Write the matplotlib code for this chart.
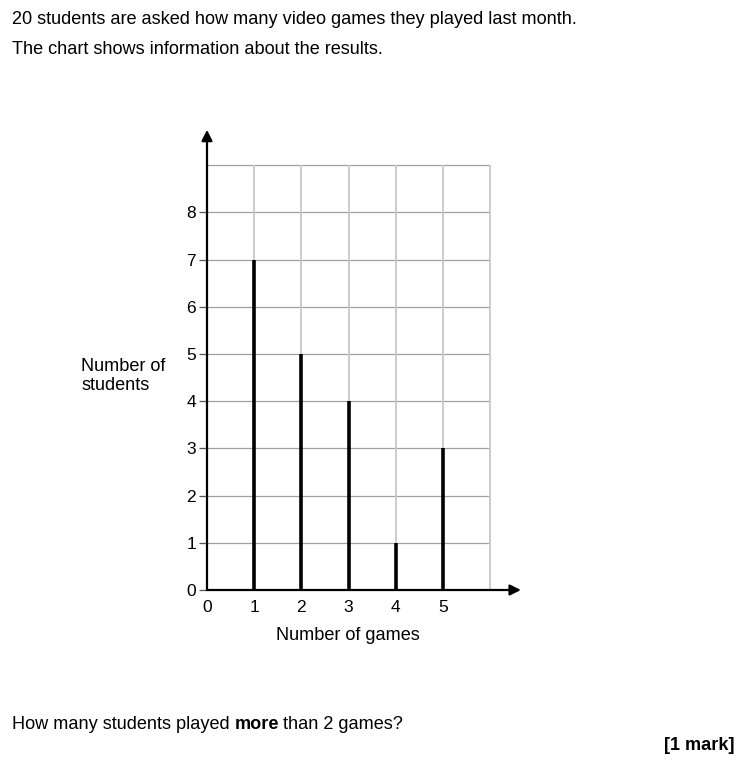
import numpy as np
import matplotlib.pyplot as plt

plt.rcParams['font.family'] = ['Liberation Sans', 'DejaVu Sans']

# data
games = [1, 2, 3, 4, 5]
students = [7, 5, 4, 1, 3]
y_ticks = [0, 1, 2, 3, 4, 5, 6, 7, 8]
x_ticks = [0, 1, 2, 3, 4, 5]
grid_x = [1, 2, 3, 4, 5, 6]
grid_y = [1, 2, 3, 4, 5, 6, 7, 8, 9]

W, H = 742, 768
fig = plt.figure(figsize=(W / 100, H / 100), dpi=100)
fs = 13.1

# axes placement in pixels (origin at 207, 590; ~47.2 px per unit)
unit = 47.2
x0, y0 = 207, 590
xmax, ymax = 6.65, 9.75
ax = fig.add_axes([x0 / W, (H - y0) / H, xmax * unit / W, ymax * unit / H])
ax.set_xlim(0, xmax)
ax.set_ylim(0, ymax)
for s in ax.spines.values():
    s.set_visible(False)

# grid
ax.hlines(grid_y, 0, grid_x[-1], color='#a0a0a0', lw=0.9, zorder=1)
ax.vlines(grid_x, 0, grid_y[-1], color='#c8c8c8', lw=1.3, zorder=1)

# bars as thick lines
ax.vlines(games, 0, students, color='black', lw=2.6, zorder=3)

# axes with arrows
ax.annotate('', xy=(xmax, 0), xytext=(0, 0),
            arrowprops=dict(arrowstyle='-|>', color='black', lw=1.6,
                            mutation_scale=16, shrinkA=0, shrinkB=0), zorder=4)
ax.annotate('', xy=(0, ymax), xytext=(0, 0),
            arrowprops=dict(arrowstyle='-|>', color='black', lw=1.6,
                            mutation_scale=16, shrinkA=0, shrinkB=0), zorder=4)

# ticks
ax.set_yticks(y_ticks)
ax.set_yticklabels([str(v) for v in y_ticks], fontsize=12.5)
ax.tick_params(axis='y', length=6, width=0.9, color='#555555', pad=2)
ax.set_xticks(x_ticks)
ax.set_xticklabels([str(v) for v in x_ticks], fontsize=12.5)
ax.tick_params(axis='x', length=0, pad=7)

# labels
fig.text(81 / W, 1 - 376 / H, 'Number of\nstudents', fontsize=fs,
         ha='left', va='center', linespacing=1.1)
fig.text(348 / W, 1 - 636 / H, 'Number of games', fontsize=fs,
         ha='center', va='center')

# question text
fig.text(12 / W, 1 - 20 / H, '20 students are asked how many video games they played last month.',
         fontsize=fs, ha='left', va='center')
fig.text(12 / W, 1 - 50 / H, 'The chart shows information about the results.',
         fontsize=fs, ha='left', va='center')

t1 = fig.text(12 / W, 1 - 729 / H, 'How many students played ', fontsize=fs,
              ha='left', va='baseline')
t2 = fig.text(0, 0, 'more', fontsize=fs, fontweight='bold', ha='left', va='baseline')
fig.canvas.draw()
r = fig.canvas.get_renderer()
bb = t1.get_window_extent(r)
t2.set_position((bb.x1 / W, t1.get_position()[1]))
fig.canvas.draw()
bb2 = t2.get_window_extent(r)
fig.text(bb2.x1 / W + 4 / W, t1.get_position()[1], 'than 2 games?', fontsize=fs,
         ha='left', va='baseline')

fig.text(735 / W, 1 - 745 / H, '[1 mark]', fontsize=fs, fontweight='bold',
         ha='right', va='center')

fig.savefig('out.png', dpi=100, facecolor='white')
